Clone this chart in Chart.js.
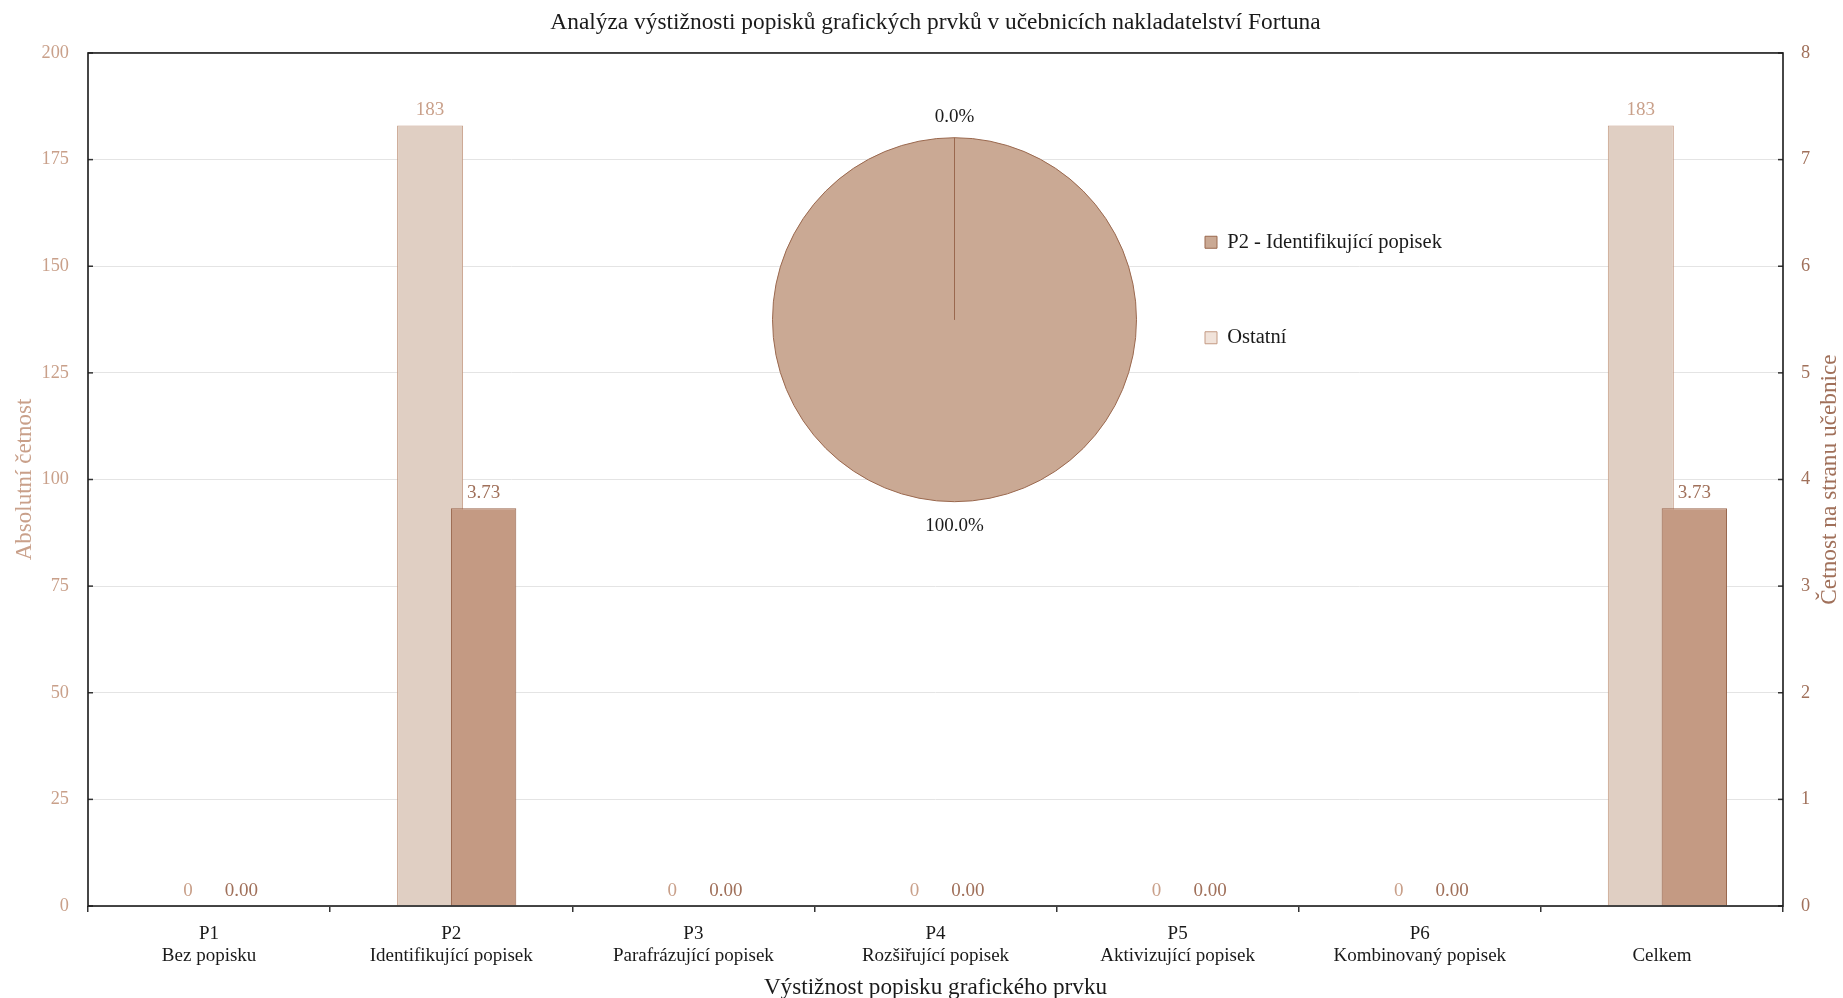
<!DOCTYPE html>
<html>
<head>
<meta charset="utf-8">
<script src="https://cdn.jsdelivr.net/npm/chart.js@4.4.1/dist/chart.umd.min.js"></script>
<style>
  html, body { margin: 0; padding: 0; background: #ffffff; }
  #wrap { position: relative; width: 1843px; height: 998px; }
  #mainBox { position: absolute; left: 0; top: 0; width: 1843px; height: 998px; }
  #pieBox { position: absolute; left: 700px; top: 90px; width: 900px; height: 460px; }
</style>
</head>
<body>
<div id="wrap">
  <div id="mainBox"><canvas id="main"></canvas></div>
  <div id="pieBox"><canvas id="pie"></canvas></div>
</div>
<script>
// ---- data ----
const chartTitle = "Analýza výstižnosti popisků grafických prvků v učebnicích nakladatelství Fortuna";
const categories = [
  ["P1", "Bez popisku"],
  ["P2", "Identifikující popisek"],
  ["P3", "Parafrázující popisek"],
  ["P4", "Rozšiřující popisek"],
  ["P5", "Aktivizující popisek"],
  ["P6", "Kombinovaný popisek"],
  ["", "Celkem"]
];
const absoluteCounts = [0, 183, 0, 0, 0, 0, 183];
const perPageCounts = [0, 3.73, 0, 0, 0, 0, 3.73];
const xAxisTitle = "Výstižnost popisku grafického prvku";
const leftAxisTitle = "Absolutní četnost";
const rightAxisTitle = "Četnost na stranu učebnice";
const leftAxisMax = 200, leftAxisStep = 25;
const rightAxisMax = 8, rightAxisStep = 1;
const pieLabels = ["P2 - Identifikující popisek", "Ostatní"];
const pieValues = [183, 0];

// ---- styles ----
const FONT = "'Liberation Serif', 'Times New Roman', serif";
const lightFill = "#e0cfc3", lightBorder = "#c49a83", lightText = "#c9a08a";
const darkFill = "#c49a83", darkBorder = "#9a684e", darkText = "#a0705a";
const inkColor = "#1a1a1a";

const framePlugin = {
  id: 'frameAndLabels',
  beforeDatasetDraw(chart, args) {
    if (args.index === 1) return false; // drawn later so it sits on top
  },
  afterDatasetsDraw(chart) {
    const ctx = chart.ctx;
    const meta1 = chart.getDatasetMeta(1);
    meta1.controller.draw();
    // value labels
    ctx.save();
    ctx.font = "19px " + FONT;
    ctx.textAlign = 'center';
    ctx.textBaseline = 'alphabetic';
    [0, 1].forEach(di => {
      const meta = chart.getDatasetMeta(di);
      const ds = chart.data.datasets[di];
      ctx.fillStyle = di === 0 ? lightText : darkText;
      meta.data.forEach((el, i) => {
        const v = ds.data[i];
        const txt = di === 0 ? String(Math.round(v)) : v.toFixed(2);
        ctx.fillText(txt, el.x, el.y - 10.5);
      });
    });
    ctx.restore();
  },
  afterDraw(chart) {
    const ctx = chart.ctx;
    const a = chart.chartArea;
    ctx.save();
    // inward tick marks
    ctx.strokeStyle = "#333";
    ctx.lineWidth = 1.5;
    const yl = chart.scales.y, yr = chart.scales.y1;
    yl.ticks.forEach((t, i) => {
      const py = yl.getPixelForTick(i);
      ctx.beginPath(); ctx.moveTo(a.left, py); ctx.lineTo(a.left + 5, py); ctx.stroke();
    });
    yr.ticks.forEach((t, i) => {
      const py = yr.getPixelForTick(i);
      ctx.beginPath(); ctx.moveTo(a.right, py); ctx.lineTo(a.right - 5, py); ctx.stroke();
    });
    // frame
    ctx.strokeStyle = "#1a1a1a";
    ctx.lineWidth = 1.6;
    ctx.strokeRect(a.left, a.top, a.right - a.left, a.bottom - a.top);
    // right axis title (reads bottom to top)
    ctx.translate(chart.width - 13, (a.top + a.bottom) / 2);
    ctx.rotate(-Math.PI / 2);
    ctx.font = "23.3px " + FONT;
    ctx.fillStyle = darkText;
    ctx.textAlign = 'center';
    ctx.textBaseline = 'middle';
    ctx.fillText(rightAxisTitle, 0, 0);
    ctx.restore();
  }
};

new Chart(document.getElementById('main'), {
  type: 'bar',
  data: {
    labels: categories,
    datasets: [
      {
        label: leftAxisTitle,
        data: absoluteCounts,
        yAxisID: 'y',
        backgroundColor: lightFill,
        borderColor: lightBorder,
        borderWidth: 1,
        categoryPercentage: 0.3486,
        barPercentage: 1.564
      },
      {
        label: rightAxisTitle,
        data: perPageCounts,
        yAxisID: 'y1',
        backgroundColor: darkFill,
        borderColor: darkBorder,
        borderWidth: 1,
        categoryPercentage: 0.5353,
        barPercentage: 1.008
      }
    ]
  },
  options: {
    responsive: true,
    maintainAspectRatio: false,
    animation: false,
    layout: { padding: 0 },
    plugins: {
      legend: { display: false },
      tooltip: { enabled: false },
      title: {
        display: true,
        fullSize: false,
        text: chartTitle,
        color: inkColor,
        font: { family: FONT, size: 23.4, weight: 'normal', lineHeight: 1.2 },
        padding: { top: 8.4, bottom: 16.5 }
      }
    },
    scales: {
      x: {
        type: 'category',
        offset: true,
        border: { display: false },
        grid: { offset: true, drawOnChartArea: false, tickLength: 6, color: '#333', lineWidth: 1.5 },
        ticks: { color: inkColor, font: { family: FONT, size: 19, lineHeight: 1.16 }, padding: 11.4, maxRotation: 0, autoSkip: false },
        title: { display: true, text: xAxisTitle, color: inkColor, font: { family: FONT, size: 23.2, lineHeight: 0.9 }, padding: { top: 0, bottom: 0 } },
        afterFit(s) { s.height = 92; }
      },
      y: {
        position: 'left',
        min: 0, max: leftAxisMax,
        border: { display: false },
        grid: { color: '#e4e4e4', lineWidth: 1, drawTicks: false },
        ticks: { stepSize: leftAxisStep, color: lightText, font: { family: FONT, size: 18.3 }, padding: 19 },
        title: { display: true, text: leftAxisTitle, color: lightText, font: { family: FONT, size: 23, lineHeight: 1.2 }, padding: { top: 11, bottom: 0 } },
        afterFit(s) { s.width = 88; }
      },
      y1: {
        position: 'right',
        min: 0, max: rightAxisMax,
        border: { display: false },
        grid: { drawOnChartArea: false, drawTicks: false },
        ticks: { stepSize: rightAxisStep, color: darkText, font: { family: FONT, size: 18.3 }, padding: 18 },
        afterFit(s) { s.width = 60; }
      }
    }
  },
  plugins: [framePlugin]
});

// ---- inset pie ----
const legendFontSize = 20.5, legendPad = 75, legendBox = 12;
const mctx = document.createElement('canvas').getContext('2d');
mctx.font = legendFontSize + "px " + FONT;
const maxLegendText = Math.max(...pieLabels.map(t => mctx.measureText(t).width));
const legendWidth = legendPad + legendBox + legendFontSize / 2 + maxLegendText + 10;
const pieCanvasW = 900;
const legendLeftInCanvas = 430;
const padRight = Math.max(0, pieCanvasW - legendLeftInCanvas - legendWidth);

const pieLabelPlugin = {
  id: 'pieLabels',
  afterDatasetsDraw(chart) {
    const ctx = chart.ctx;
    const meta = chart.getDatasetMeta(0);
    const vals = chart.data.datasets[0].data;
    const total = vals.reduce((s, v) => s + v, 0);
    ctx.save();
    ctx.font = "19px " + FONT;
    ctx.fillStyle = inkColor;
    ctx.textAlign = 'center';
    ctx.textBaseline = 'middle';
    meta.data.forEach((el, i) => {
      const p = el.getProps(['x', 'y', 'startAngle', 'endAngle', 'outerRadius'], true);
      const mid = (p.startAngle + p.endAngle) / 2;
      const r = p.outerRadius * 1.125;
      const pct = (vals[i] / total * 100).toFixed(1) + "%";
      ctx.fillText(pct, p.x + Math.cos(mid) * r, p.y + Math.sin(mid) * r + 2);
    });
    ctx.restore();
  }
};

new Chart(document.getElementById('pie'), {
  type: 'pie',
  data: {
    labels: pieLabels,
    datasets: [{
      data: pieValues,
      backgroundColor: ['#caa994', '#f1e3da'],
      borderColor: ['#9a684e', '#c49a83'],
      borderWidth: 1,
      radius: 182,
      clip: false
    }]
  },
  options: {
    responsive: true,
    maintainAspectRatio: false,
    animation: false,
    layout: { padding: { left: 79, top: 67, bottom: 67.6, right: padRight } },
    plugins: {
      tooltip: { enabled: false },
      legend: {
        position: 'right',
        align: 'start',
        labels: {
          boxWidth: legendBox, boxHeight: legendBox,
          padding: legendPad,
          color: inkColor,
          font: { family: FONT, size: legendFontSize }
        }
      }
    }
  },
  plugins: [pieLabelPlugin]
});
</script>
</body>
</html>
